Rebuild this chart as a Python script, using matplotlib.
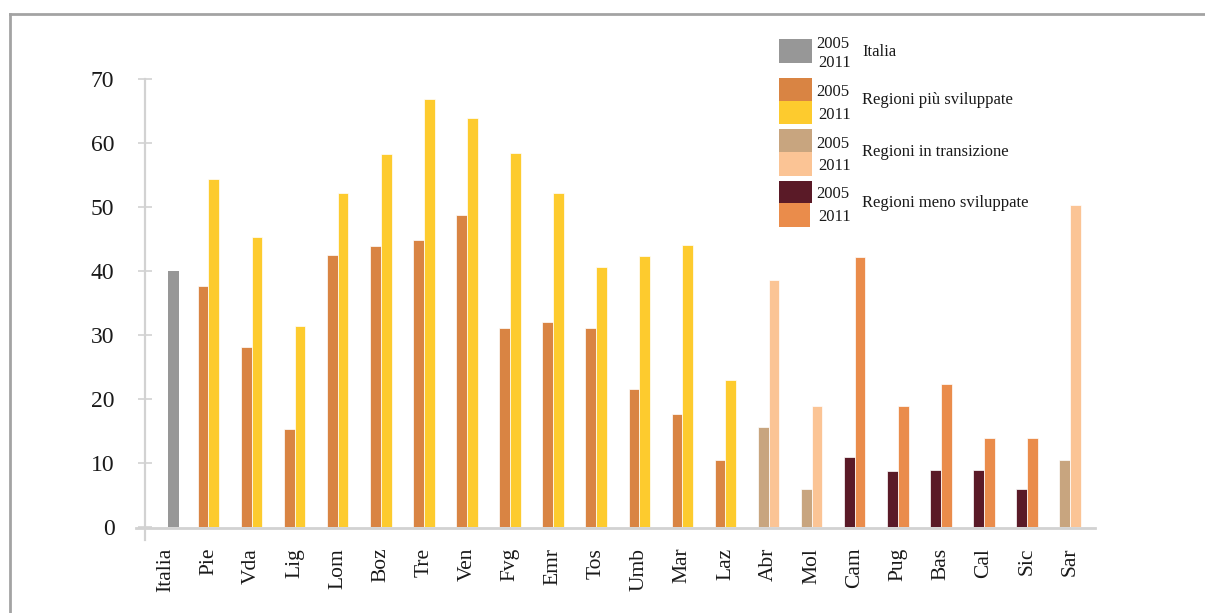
import matplotlib
matplotlib.use("Agg")
import matplotlib.pyplot as plt
from matplotlib.patches import Rectangle
from matplotlib.lines import Line2D
import numpy as np

# ---------------- data ----------------
categories = ["Italia", "Pie", "Vda", "Lig", "Lom", "Boz", "Tre", "Ven", "Fvg", "Emr", "Tos",
              "Umb", "Mar", "Laz", "Abr", "Mol", "Cam", "Pug", "Bas", "Cal", "Sic", "Sar"]
groups = ["italia", "piu", "piu", "piu", "piu", "piu", "piu", "piu", "piu", "piu", "piu",
          "piu", "piu", "piu", "trans", "trans", "meno", "meno", "meno", "meno", "meno", "trans"]
values_2005 = [40.0, 37.7, 28.1, 15.3, 42.5, 43.9, 44.8, 48.8, 31.1, 32.0, 31.1,
               21.6, 17.7, 10.5, 15.6, 5.9, 10.9, 8.8, 8.9, 8.9, 5.9, 10.5]
values_2011 = [None, 54.4, 45.3, 31.4, 52.2, 58.3, 66.9, 63.9, 58.4, 52.2, 40.6,
               42.3, 44.1, 23.0, 38.6, 18.9, 42.2, 18.9, 22.3, 13.9, 13.9, 50.3]
y_ticks = [0, 10, 20, 30, 40, 50, 60, 70]
legend_labels = ["Italia", "Regioni più sviluppate", "Regioni in transizione", "Regioni meno sviluppate"]
legend_groups = ["italia", "piu", "trans", "meno"]
year_labels = ["2005", "2011"]

# ---------------- style ----------------
colors = {
    "italia": ("#979797", "#979797"),
    "piu": ("#D98443", "#FDCB2E"),
    "trans": ("#C8A57F", "#FBC495"),
    "meno": ("#5A1A27", "#EA8C4B"),
}
W, H = 1205, 613
SERIF = ["Liberation Serif", "DejaVu Serif"]
plt.rcParams["font.family"] = SERIF
AXIS_COL = "#d2d2d2"

fig = plt.figure(figsize=(W / 100, H / 100), dpi=100)

def fx(x):
    return x / W

def fy(y):
    return 1 - y / H

# axes placement in pixels
ax_left, ax_right, ax_top, ax_bottom = 145, 1095, 79.3, 527
ax = fig.add_axes([fx(ax_left), fy(ax_bottom), (ax_right - ax_left) / W, (ax_bottom - ax_top) / H])

spacing = 43.08
x0_px = 165.4
ax.set_xlim((ax_left - x0_px) / spacing, (ax_right - x0_px) / spacing)
ax.set_ylim(0, 70)

bw = 0.25
x = np.arange(len(categories))
for i, cat in enumerate(categories):
    g = groups[i]
    c05, c11 = colors[g]
    if values_2011[i] is None:
        ax.bar(i + 0.19, values_2005[i], width=0.255, color=c05, linewidth=0)
    else:
        ax.bar(i - bw / 2, values_2005[i], width=bw, color=c05, edgecolor="white", linewidth=0.5)
        ax.bar(i + bw / 2, values_2011[i], width=bw, color=c11, edgecolor="white", linewidth=0.5)

for s in ax.spines.values():
    s.set_visible(False)

# axis lines (drawn with overhang like the original)
trans = ax.transAxes
ax_w_px = ax_right - ax_left
ax_h_px = ax_bottom - ax_top
ax.add_line(Line2D([0, 0], [-13 / ax_h_px, 1], transform=trans, color=AXIS_COL, lw=1.6, clip_on=False))
ax.add_line(Line2D([-9 / ax_w_px, 1], [-1 / ax_h_px, -1 / ax_h_px], transform=trans, color=AXIS_COL, lw=2.0, clip_on=False))

ax.set_yticks(y_ticks)
ax.set_yticklabels([str(v) for v in y_ticks])
ax.tick_params(axis="y", direction="inout", length=10, width=1.2, color=AXIS_COL,
               labelsize=17, pad=17, labelcolor="#1a1a1a")
ax.set_xticks(x)
ax.set_xticklabels(categories, rotation=90)
ax.tick_params(axis="x", length=0, labelsize=15.5, pad=15, labelcolor="#1a1a1a")

# ---------------- legend (manual) ----------------
patch_x0, patch_x1 = 779, 812
leg_entries = [
    # (group, top, mid, bottom, y2005, y2011, ylabel)
    ("italia", 39, None, 63, 44, 63, 52),
    ("piu", 78, 101, 124, 92, 115, 100),
    ("trans", 129, 152, 176, 144, 166, 152),
    ("meno", 181, 203, 227, 194, 217, 203),
]
for k, (g, top, mid, bot, y05, y11, ylab) in enumerate(leg_entries):
    c05, c11 = colors[g]
    if mid is None:
        fig.add_artist(Rectangle((fx(patch_x0), fy(bot)), (patch_x1 - patch_x0) / W, (bot - top) / H,
                                 transform=fig.transFigure, color=c05, lw=0))
    else:
        fig.add_artist(Rectangle((fx(patch_x0), fy(mid)), (patch_x1 - patch_x0) / W, (mid - top) / H,
                                 transform=fig.transFigure, color=c05, lw=0))
        x1b = patch_x1 - (2 if g == "meno" else 0)
        fig.add_artist(Rectangle((fx(patch_x0), fy(bot)), (x1b - patch_x0) / W, (bot - mid) / H,
                                 transform=fig.transFigure, color=c11, lw=0))
    fig.text(fx(816), fy(y05), year_labels[0], fontsize=12, va="center", ha="left", color="#1a1a1a")
    fig.text(fx(818), fy(y11), year_labels[1], fontsize=12, va="center", ha="left", color="#1a1a1a")
    fig.text(fx(862), fy(ylab), legend_labels[k], fontsize=12, va="center", ha="left", color="#1a1a1a")

# outer frame
fig.add_artist(Line2D([fx(10), 1.0], [fy(14), fy(14)], transform=fig.transFigure, color="#a3a3a3", lw=2))
fig.add_artist(Line2D([fx(10), fx(10)], [fy(14), 0.0], transform=fig.transFigure, color="#a3a3a3", lw=2))

fig.savefig("out.png", dpi=100)
